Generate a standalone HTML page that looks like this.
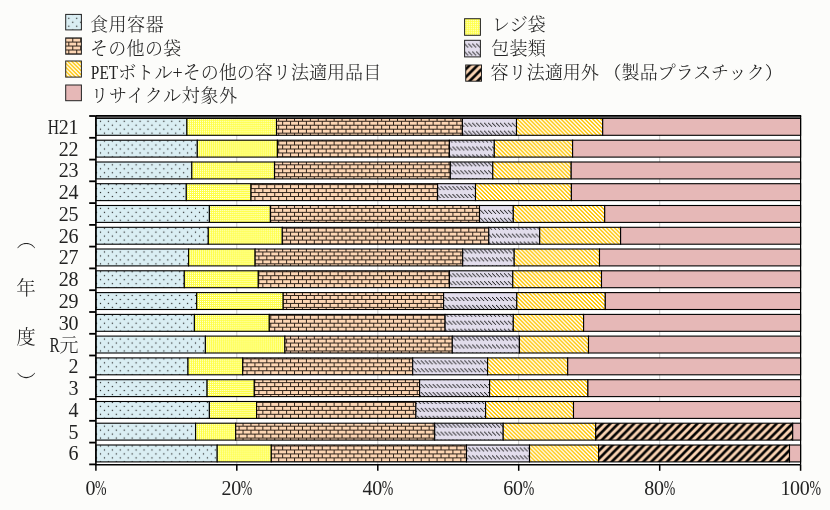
<!DOCTYPE html>
<html lang="ja"><head><meta charset="utf-8"><title>プラスチック製容器包装の構成比</title>
<style>html,body{margin:0;padding:0;background:#fcfcfa;}svg{display:block}text{font-family:"Liberation Serif", "Noto Serif CJK JP", "Noto Serif CJK SC", serif;font-size:18px;fill:#222;font-weight:300}</style>
</head><body>
<svg width="830" height="510" viewBox="0 0 830 510">
<defs>
<pattern id="pDot" width="8" height="8" patternUnits="userSpaceOnUse" patternTransform="scale(0.99)"><rect width="8" height="8" fill="#daeef3"/><rect x="4.9" y="1.9" width="1.2" height="1.2" fill="#222"/><rect x="0.9" y="5.9" width="1.2" height="1.2" fill="#222"/></pattern>
<pattern id="pYel" width="2" height="2" patternUnits="userSpaceOnUse" patternTransform="scale(0.99)"><rect width="2" height="2" fill="#ffff42"/><rect x="0" y="0" width="1" height="1" fill="#ffffff"/></pattern>
<pattern id="pBrick" width="8" height="8" patternUnits="userSpaceOnUse" patternTransform="scale(0.99)"><rect width="8" height="8" fill="#fdd6b4"/><rect x="0" y="2.05" width="8" height="0.9" fill="#1a0f08"/><rect x="0" y="6.05" width="8" height="0.9" fill="#1a0f08"/><rect x="5.05" y="2.9" width="0.9" height="3.2" fill="#1a0f08"/><rect x="1.05" y="6.9" width="0.9" height="1.1" fill="#1a0f08"/><rect x="1.05" y="0" width="0.9" height="2.1" fill="#1a0f08"/></pattern>
<pattern id="pLav" width="4" height="8" patternUnits="userSpaceOnUse" patternTransform="scale(0.99)"><rect width="4" height="8" fill="#e2ddec"/><g fill="#1a1a1a"><rect x="1" y="4" width="1.1" height="1.1"/><rect x="2" y="5" width="1.1" height="1.1"/><rect x="3" y="6" width="1" height="1.1"/><rect x="0" y="7" width="1.1" height="1"/></g></pattern>
<pattern id="pHatch" width="4" height="4" patternUnits="userSpaceOnUse" patternTransform="scale(0.99)"><rect width="4" height="4" fill="#ffc400"/><g fill="#ffffff"><rect x="0" y="0" width="2" height="1"/><rect x="1" y="1" width="2" height="1"/><rect x="2" y="2" width="2" height="1"/><rect x="3" y="3" width="1" height="1"/><rect x="0" y="3" width="1" height="1"/></g></pattern>
<pattern id="pBlk" width="8" height="8" patternUnits="userSpaceOnUse" patternTransform="scale(0.99)"><rect width="8" height="8" fill="#fcd5b4"/><path d="M-1 5.3 L5.3 -1 M-1 13.3 L13.3 -1 M-1 21.3 L21.3 -1" stroke="#000" stroke-width="2.7" fill="none"/></pattern>
<pattern id="pPink" width="8" height="8" patternUnits="userSpaceOnUse"><rect width="8" height="8" fill="#e6b8b7"/></pattern>
</defs>
<rect x="0" y="0" width="830" height="510" fill="#fcfcfa"/>
<rect x="95.9" y="116.0" width="704.7" height="348.7" fill="#ffffff"/>
<line x1="236.8" y1="116.0" x2="236.8" y2="464.7" stroke="#c8c8c8" stroke-width="1"/>
<line x1="377.8" y1="116.0" x2="377.8" y2="464.7" stroke="#c8c8c8" stroke-width="1"/>
<line x1="518.7" y1="116.0" x2="518.7" y2="464.7" stroke="#c8c8c8" stroke-width="1"/>
<line x1="659.7" y1="116.0" x2="659.7" y2="464.7" stroke="#c8c8c8" stroke-width="1"/>
<rect x="95.9" y="118.4" width="91.0" height="16.9" fill="url(#pDot)" stroke="#000" stroke-width="1.1"/>
<rect x="186.9" y="118.4" width="89.6" height="16.9" fill="url(#pYel)" stroke="#000" stroke-width="1.1"/>
<rect x="276.5" y="118.4" width="185.9" height="16.9" fill="url(#pBrick)" stroke="#000" stroke-width="1.1"/>
<rect x="462.4" y="118.4" width="54.1" height="16.9" fill="url(#pLav)" stroke="#000" stroke-width="1.1"/>
<rect x="516.5" y="118.4" width="86.2" height="16.9" fill="url(#pHatch)" stroke="#000" stroke-width="1.1"/>
<rect x="602.7" y="118.4" width="197.9" height="16.9" fill="url(#pPink)" stroke="#000" stroke-width="1.1"/>
<rect x="95.9" y="140.2" width="101.4" height="16.9" fill="url(#pDot)" stroke="#000" stroke-width="1.1"/>
<rect x="197.3" y="140.2" width="80.1" height="16.9" fill="url(#pYel)" stroke="#000" stroke-width="1.1"/>
<rect x="277.4" y="140.2" width="172.0" height="16.9" fill="url(#pBrick)" stroke="#000" stroke-width="1.1"/>
<rect x="449.4" y="140.2" width="44.9" height="16.9" fill="url(#pLav)" stroke="#000" stroke-width="1.1"/>
<rect x="494.3" y="140.2" width="78.3" height="16.9" fill="url(#pHatch)" stroke="#000" stroke-width="1.1"/>
<rect x="572.6" y="140.2" width="228.0" height="16.9" fill="url(#pPink)" stroke="#000" stroke-width="1.1"/>
<rect x="95.9" y="162.0" width="95.9" height="16.9" fill="url(#pDot)" stroke="#000" stroke-width="1.1"/>
<rect x="191.8" y="162.0" width="82.7" height="16.9" fill="url(#pYel)" stroke="#000" stroke-width="1.1"/>
<rect x="274.5" y="162.0" width="175.8" height="16.9" fill="url(#pBrick)" stroke="#000" stroke-width="1.1"/>
<rect x="450.3" y="162.0" width="42.5" height="16.9" fill="url(#pLav)" stroke="#000" stroke-width="1.1"/>
<rect x="492.8" y="162.0" width="78.4" height="16.9" fill="url(#pHatch)" stroke="#000" stroke-width="1.1"/>
<rect x="571.2" y="162.0" width="229.4" height="16.9" fill="url(#pPink)" stroke="#000" stroke-width="1.1"/>
<rect x="95.9" y="183.7" width="90.4" height="16.9" fill="url(#pDot)" stroke="#000" stroke-width="1.1"/>
<rect x="186.3" y="183.7" width="64.7" height="16.9" fill="url(#pYel)" stroke="#000" stroke-width="1.1"/>
<rect x="251.0" y="183.7" width="186.6" height="16.9" fill="url(#pBrick)" stroke="#000" stroke-width="1.1"/>
<rect x="437.6" y="183.7" width="37.9" height="16.9" fill="url(#pLav)" stroke="#000" stroke-width="1.1"/>
<rect x="475.5" y="183.7" width="95.9" height="16.9" fill="url(#pHatch)" stroke="#000" stroke-width="1.1"/>
<rect x="571.4" y="183.7" width="229.2" height="16.9" fill="url(#pPink)" stroke="#000" stroke-width="1.1"/>
<rect x="95.9" y="205.5" width="113.5" height="16.9" fill="url(#pDot)" stroke="#000" stroke-width="1.1"/>
<rect x="209.4" y="205.5" width="61.0" height="16.9" fill="url(#pYel)" stroke="#000" stroke-width="1.1"/>
<rect x="270.4" y="205.5" width="209.1" height="16.9" fill="url(#pBrick)" stroke="#000" stroke-width="1.1"/>
<rect x="479.5" y="205.5" width="33.8" height="16.9" fill="url(#pLav)" stroke="#000" stroke-width="1.1"/>
<rect x="513.3" y="205.5" width="91.4" height="16.9" fill="url(#pHatch)" stroke="#000" stroke-width="1.1"/>
<rect x="604.7" y="205.5" width="195.9" height="16.9" fill="url(#pPink)" stroke="#000" stroke-width="1.1"/>
<rect x="95.9" y="227.3" width="112.4" height="16.9" fill="url(#pDot)" stroke="#000" stroke-width="1.1"/>
<rect x="208.3" y="227.3" width="74.0" height="16.9" fill="url(#pYel)" stroke="#000" stroke-width="1.1"/>
<rect x="282.3" y="227.3" width="206.5" height="16.9" fill="url(#pBrick)" stroke="#000" stroke-width="1.1"/>
<rect x="488.8" y="227.3" width="50.9" height="16.9" fill="url(#pLav)" stroke="#000" stroke-width="1.1"/>
<rect x="539.7" y="227.3" width="80.9" height="16.9" fill="url(#pHatch)" stroke="#000" stroke-width="1.1"/>
<rect x="620.6" y="227.3" width="180.0" height="16.9" fill="url(#pPink)" stroke="#000" stroke-width="1.1"/>
<rect x="95.9" y="249.0" width="92.7" height="16.9" fill="url(#pDot)" stroke="#000" stroke-width="1.1"/>
<rect x="188.6" y="249.0" width="66.5" height="16.9" fill="url(#pYel)" stroke="#000" stroke-width="1.1"/>
<rect x="255.1" y="249.0" width="207.6" height="16.9" fill="url(#pBrick)" stroke="#000" stroke-width="1.1"/>
<rect x="462.7" y="249.0" width="51.5" height="16.9" fill="url(#pLav)" stroke="#000" stroke-width="1.1"/>
<rect x="514.2" y="249.0" width="85.3" height="16.9" fill="url(#pHatch)" stroke="#000" stroke-width="1.1"/>
<rect x="599.5" y="249.0" width="201.1" height="16.9" fill="url(#pPink)" stroke="#000" stroke-width="1.1"/>
<rect x="95.9" y="270.8" width="88.4" height="16.9" fill="url(#pDot)" stroke="#000" stroke-width="1.1"/>
<rect x="184.3" y="270.8" width="74.0" height="16.9" fill="url(#pYel)" stroke="#000" stroke-width="1.1"/>
<rect x="258.3" y="270.8" width="191.1" height="16.9" fill="url(#pBrick)" stroke="#000" stroke-width="1.1"/>
<rect x="449.4" y="270.8" width="63.4" height="16.9" fill="url(#pLav)" stroke="#000" stroke-width="1.1"/>
<rect x="512.8" y="270.8" width="88.7" height="16.9" fill="url(#pHatch)" stroke="#000" stroke-width="1.1"/>
<rect x="601.5" y="270.8" width="199.1" height="16.9" fill="url(#pPink)" stroke="#000" stroke-width="1.1"/>
<rect x="95.9" y="292.6" width="100.8" height="16.9" fill="url(#pDot)" stroke="#000" stroke-width="1.1"/>
<rect x="196.7" y="292.6" width="86.5" height="16.9" fill="url(#pYel)" stroke="#000" stroke-width="1.1"/>
<rect x="283.2" y="292.6" width="160.4" height="16.9" fill="url(#pBrick)" stroke="#000" stroke-width="1.1"/>
<rect x="443.6" y="292.6" width="73.2" height="16.9" fill="url(#pLav)" stroke="#000" stroke-width="1.1"/>
<rect x="516.8" y="292.6" width="88.5" height="16.9" fill="url(#pHatch)" stroke="#000" stroke-width="1.1"/>
<rect x="605.3" y="292.6" width="195.3" height="16.9" fill="url(#pPink)" stroke="#000" stroke-width="1.1"/>
<rect x="95.9" y="314.4" width="98.5" height="16.9" fill="url(#pDot)" stroke="#000" stroke-width="1.1"/>
<rect x="194.4" y="314.4" width="74.9" height="16.9" fill="url(#pYel)" stroke="#000" stroke-width="1.1"/>
<rect x="269.3" y="314.4" width="175.8" height="16.9" fill="url(#pBrick)" stroke="#000" stroke-width="1.1"/>
<rect x="445.1" y="314.4" width="68.2" height="16.9" fill="url(#pLav)" stroke="#000" stroke-width="1.1"/>
<rect x="513.3" y="314.4" width="70.3" height="16.9" fill="url(#pHatch)" stroke="#000" stroke-width="1.1"/>
<rect x="583.6" y="314.4" width="217.0" height="16.9" fill="url(#pPink)" stroke="#000" stroke-width="1.1"/>
<rect x="95.9" y="336.1" width="109.5" height="16.9" fill="url(#pDot)" stroke="#000" stroke-width="1.1"/>
<rect x="205.4" y="336.1" width="79.5" height="16.9" fill="url(#pYel)" stroke="#000" stroke-width="1.1"/>
<rect x="284.9" y="336.1" width="167.4" height="16.9" fill="url(#pBrick)" stroke="#000" stroke-width="1.1"/>
<rect x="452.3" y="336.1" width="67.1" height="16.9" fill="url(#pLav)" stroke="#000" stroke-width="1.1"/>
<rect x="519.4" y="336.1" width="69.1" height="16.9" fill="url(#pHatch)" stroke="#000" stroke-width="1.1"/>
<rect x="588.5" y="336.1" width="212.1" height="16.9" fill="url(#pPink)" stroke="#000" stroke-width="1.1"/>
<rect x="95.9" y="357.9" width="92.1" height="16.9" fill="url(#pDot)" stroke="#000" stroke-width="1.1"/>
<rect x="188.0" y="357.9" width="54.7" height="16.9" fill="url(#pYel)" stroke="#000" stroke-width="1.1"/>
<rect x="242.7" y="357.9" width="170.0" height="16.9" fill="url(#pBrick)" stroke="#000" stroke-width="1.1"/>
<rect x="412.7" y="357.9" width="74.9" height="16.9" fill="url(#pLav)" stroke="#000" stroke-width="1.1"/>
<rect x="487.6" y="357.9" width="80.1" height="16.9" fill="url(#pHatch)" stroke="#000" stroke-width="1.1"/>
<rect x="567.7" y="357.9" width="232.9" height="16.9" fill="url(#pPink)" stroke="#000" stroke-width="1.1"/>
<rect x="95.9" y="379.7" width="111.2" height="16.9" fill="url(#pDot)" stroke="#000" stroke-width="1.1"/>
<rect x="207.1" y="379.7" width="47.2" height="16.9" fill="url(#pYel)" stroke="#000" stroke-width="1.1"/>
<rect x="254.3" y="379.7" width="165.3" height="16.9" fill="url(#pBrick)" stroke="#000" stroke-width="1.1"/>
<rect x="419.6" y="379.7" width="70.0" height="16.9" fill="url(#pLav)" stroke="#000" stroke-width="1.1"/>
<rect x="489.6" y="379.7" width="98.3" height="16.9" fill="url(#pHatch)" stroke="#000" stroke-width="1.1"/>
<rect x="587.9" y="379.7" width="212.7" height="16.9" fill="url(#pPink)" stroke="#000" stroke-width="1.1"/>
<rect x="95.9" y="401.5" width="113.5" height="16.9" fill="url(#pDot)" stroke="#000" stroke-width="1.1"/>
<rect x="209.4" y="401.5" width="47.2" height="16.9" fill="url(#pYel)" stroke="#000" stroke-width="1.1"/>
<rect x="256.6" y="401.5" width="159.3" height="16.9" fill="url(#pBrick)" stroke="#000" stroke-width="1.1"/>
<rect x="415.9" y="401.5" width="69.7" height="16.9" fill="url(#pLav)" stroke="#000" stroke-width="1.1"/>
<rect x="485.6" y="401.5" width="87.9" height="16.9" fill="url(#pHatch)" stroke="#000" stroke-width="1.1"/>
<rect x="573.5" y="401.5" width="227.1" height="16.9" fill="url(#pPink)" stroke="#000" stroke-width="1.1"/>
<rect x="95.9" y="423.2" width="99.7" height="16.9" fill="url(#pDot)" stroke="#000" stroke-width="1.1"/>
<rect x="195.6" y="423.2" width="40.1" height="16.9" fill="url(#pYel)" stroke="#000" stroke-width="1.1"/>
<rect x="235.7" y="423.2" width="199.0" height="16.9" fill="url(#pBrick)" stroke="#000" stroke-width="1.1"/>
<rect x="434.7" y="423.2" width="68.5" height="16.9" fill="url(#pLav)" stroke="#000" stroke-width="1.1"/>
<rect x="503.2" y="423.2" width="92.5" height="16.9" fill="url(#pHatch)" stroke="#000" stroke-width="1.1"/>
<rect x="595.7" y="423.2" width="197.0" height="16.9" fill="url(#pBlk)" stroke="#000" stroke-width="1.1"/>
<rect x="792.7" y="423.2" width="7.9" height="16.9" fill="url(#pPink)" stroke="#000" stroke-width="1.1"/>
<rect x="95.9" y="445.0" width="121.3" height="16.9" fill="url(#pDot)" stroke="#000" stroke-width="1.1"/>
<rect x="217.2" y="445.0" width="54.1" height="16.9" fill="url(#pYel)" stroke="#000" stroke-width="1.1"/>
<rect x="271.3" y="445.0" width="195.2" height="16.9" fill="url(#pBrick)" stroke="#000" stroke-width="1.1"/>
<rect x="466.5" y="445.0" width="63.0" height="16.9" fill="url(#pLav)" stroke="#000" stroke-width="1.1"/>
<rect x="529.5" y="445.0" width="69.1" height="16.9" fill="url(#pHatch)" stroke="#000" stroke-width="1.1"/>
<rect x="598.6" y="445.0" width="190.9" height="16.9" fill="url(#pBlk)" stroke="#000" stroke-width="1.1"/>
<rect x="789.5" y="445.0" width="11.1" height="16.9" fill="url(#pPink)" stroke="#000" stroke-width="1.1"/>
<path d="M95.9 117.4 H800.6" fill="none" stroke="#555" stroke-width="1.4"/>
<path d="M95.9 115.9 H801.2" fill="none" stroke="#000" stroke-width="1.7"/>
<path d="M800.6 116.0 V464.7" fill="none" stroke="#000" stroke-width="1.2"/>
<path d="M95.9 116.0 V464.7 H800.6" fill="none" stroke="#000" stroke-width="1.6"/>
<line x1="89.2" y1="116.0" x2="95.9" y2="116.0" stroke="#000" stroke-width="1.8"/>
<line x1="89.2" y1="137.8" x2="95.9" y2="137.8" stroke="#000" stroke-width="1.8"/>
<line x1="89.2" y1="159.6" x2="95.9" y2="159.6" stroke="#000" stroke-width="1.8"/>
<line x1="89.2" y1="181.3" x2="95.9" y2="181.3" stroke="#000" stroke-width="1.8"/>
<line x1="89.2" y1="203.1" x2="95.9" y2="203.1" stroke="#000" stroke-width="1.8"/>
<line x1="89.2" y1="224.9" x2="95.9" y2="224.9" stroke="#000" stroke-width="1.8"/>
<line x1="89.2" y1="246.6" x2="95.9" y2="246.6" stroke="#000" stroke-width="1.8"/>
<line x1="89.2" y1="268.4" x2="95.9" y2="268.4" stroke="#000" stroke-width="1.8"/>
<line x1="89.2" y1="290.2" x2="95.9" y2="290.2" stroke="#000" stroke-width="1.8"/>
<line x1="89.2" y1="312.0" x2="95.9" y2="312.0" stroke="#000" stroke-width="1.8"/>
<line x1="89.2" y1="333.8" x2="95.9" y2="333.8" stroke="#000" stroke-width="1.8"/>
<line x1="89.2" y1="355.5" x2="95.9" y2="355.5" stroke="#000" stroke-width="1.8"/>
<line x1="89.2" y1="377.3" x2="95.9" y2="377.3" stroke="#000" stroke-width="1.8"/>
<line x1="89.2" y1="399.1" x2="95.9" y2="399.1" stroke="#000" stroke-width="1.8"/>
<line x1="89.2" y1="420.8" x2="95.9" y2="420.8" stroke="#000" stroke-width="1.8"/>
<line x1="89.2" y1="442.6" x2="95.9" y2="442.6" stroke="#000" stroke-width="1.8"/>
<line x1="89.2" y1="464.4" x2="95.9" y2="464.4" stroke="#000" stroke-width="1.8"/>
<line x1="95.9" y1="464.7" x2="95.9" y2="470.8" stroke="#000" stroke-width="1.5"/>
<line x1="236.8" y1="464.7" x2="236.8" y2="470.8" stroke="#000" stroke-width="1.5"/>
<line x1="377.8" y1="464.7" x2="377.8" y2="470.8" stroke="#000" stroke-width="1.5"/>
<line x1="518.7" y1="464.7" x2="518.7" y2="470.8" stroke="#000" stroke-width="1.5"/>
<line x1="659.7" y1="464.7" x2="659.7" y2="470.8" stroke="#000" stroke-width="1.5"/>
<line x1="800.6" y1="464.7" x2="800.6" y2="470.8" stroke="#000" stroke-width="1.5"/>
<text x="78.2" y="133.8" text-anchor="end" style="font-size:20px;letter-spacing:-0.3px"><tspan textLength="11" lengthAdjust="spacingAndGlyphs">H</tspan>21</text>
<text x="78.2" y="155.6" text-anchor="end" style="font-size:20px;letter-spacing:-0.3px">22</text>
<text x="78.2" y="177.3" text-anchor="end" style="font-size:20px;letter-spacing:-0.3px">23</text>
<text x="78.2" y="199.1" text-anchor="end" style="font-size:20px;letter-spacing:-0.3px">24</text>
<text x="78.2" y="220.9" text-anchor="end" style="font-size:20px;letter-spacing:-0.3px">25</text>
<text x="78.2" y="242.7" text-anchor="end" style="font-size:20px;letter-spacing:-0.3px">26</text>
<text x="78.2" y="264.4" text-anchor="end" style="font-size:20px;letter-spacing:-0.3px">27</text>
<text x="78.2" y="286.2" text-anchor="end" style="font-size:20px;letter-spacing:-0.3px">28</text>
<text x="78.2" y="308.0" text-anchor="end" style="font-size:20px;letter-spacing:-0.3px">29</text>
<text x="78.2" y="329.8" text-anchor="end" style="font-size:20px;letter-spacing:-0.3px">30</text>
<text x="78.2" y="351.5" text-anchor="end" style="font-size:20px;letter-spacing:-0.3px"><tspan textLength="10" lengthAdjust="spacingAndGlyphs">R</tspan><tspan style="font-size:19px">元</tspan></text>
<text x="78.2" y="373.3" text-anchor="end" style="font-size:20px;letter-spacing:-0.3px">2</text>
<text x="78.2" y="395.1" text-anchor="end" style="font-size:20px;letter-spacing:-0.3px">3</text>
<text x="78.2" y="416.9" text-anchor="end" style="font-size:20px;letter-spacing:-0.3px">4</text>
<text x="78.2" y="438.6" text-anchor="end" style="font-size:20px;letter-spacing:-0.3px">5</text>
<text x="78.2" y="460.4" text-anchor="end" style="font-size:20px;letter-spacing:-0.3px">6</text>
<text x="95.9" y="495.2" text-anchor="middle" style="font-size:20px;letter-spacing:-0.3px">0<tspan textLength="11.3" lengthAdjust="spacingAndGlyphs">%</tspan></text>
<text x="236.8" y="495.2" text-anchor="middle" style="font-size:20px;letter-spacing:-0.3px">20<tspan textLength="11.3" lengthAdjust="spacingAndGlyphs">%</tspan></text>
<text x="377.8" y="495.2" text-anchor="middle" style="font-size:20px;letter-spacing:-0.3px">40<tspan textLength="11.3" lengthAdjust="spacingAndGlyphs">%</tspan></text>
<text x="518.7" y="495.2" text-anchor="middle" style="font-size:20px;letter-spacing:-0.3px">60<tspan textLength="11.3" lengthAdjust="spacingAndGlyphs">%</tspan></text>
<text x="659.7" y="495.2" text-anchor="middle" style="font-size:20px;letter-spacing:-0.3px">80<tspan textLength="11.3" lengthAdjust="spacingAndGlyphs">%</tspan></text>
<text x="800.6" y="495.2" text-anchor="middle" style="font-size:20px;letter-spacing:-0.3px">100<tspan textLength="11.3" lengthAdjust="spacingAndGlyphs">%</tspan></text>
<text x="26.3" y="246.5" text-anchor="middle" style="font-size:19px">︵</text>
<text x="26" y="294.5" text-anchor="middle" style="font-size:19.5px">年</text>
<text x="26" y="343.5" text-anchor="middle" style="font-size:19.5px">度</text>
<text x="26.3" y="389" text-anchor="middle" style="font-size:19px">︶</text>
<rect x="65.7" y="14.4" width="15.7" height="15.5" fill="url(#pDot)" stroke="#222" stroke-width="1"/>
<text x="90.0" y="31.4" style="letter-spacing:0.55px">食用容器</text>
<rect x="65.7" y="37.9" width="15.7" height="16.3" fill="url(#pBrick)" stroke="#222" stroke-width="1"/>
<text x="90.0" y="54.9" style="letter-spacing:0.30px">その他の袋</text>
<rect x="65.7" y="61.0" width="15.7" height="16.1" fill="url(#pHatch)" stroke="#222" stroke-width="1"/>
<text x="90.8" y="78.5" style="letter-spacing:0.05px"><tspan textLength="27.5" lengthAdjust="spacingAndGlyphs">PET</tspan>ボトル+その他の容リ法適用品目</text>
<rect x="65.7" y="85.0" width="15.7" height="15.7" fill="url(#pPink)" stroke="#222" stroke-width="1"/>
<text x="90.5" y="102.1" style="letter-spacing:0.76px">リサイクル対象外</text>
<rect x="464.6" y="18.7" width="15.8" height="16.6" fill="url(#pYel)" stroke="#222" stroke-width="1"/>
<text x="492.0" y="31.4" style="letter-spacing:0.10px">レジ袋</text>
<rect x="464.6" y="40.3" width="15.8" height="16.6" fill="url(#pLav)" stroke="#222" stroke-width="1"/>
<text x="491.0" y="54.9" style="letter-spacing:0.40px">包装類</text>
<rect x="465.7" y="65.0" width="15.8" height="16.2" fill="url(#pBlk)" stroke="#222" stroke-width="1"/>
<text x="490.5" y="78.5" style="letter-spacing:0.08px">容リ法適用外<tspan dx="4.5">（</tspan>製品プラスチック）</text>
</svg>
</body></html>
